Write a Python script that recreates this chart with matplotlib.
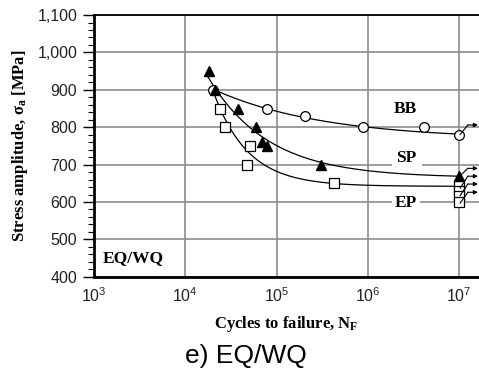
import numpy as np
import matplotlib
matplotlib.use("Agg")
import matplotlib.pyplot as plt
from matplotlib.ticker import FixedLocator, FixedFormatter, MultipleLocator, FuncFormatter

plt.rcParams['mathtext.fontset'] = 'custom'
plt.rcParams['mathtext.rm'] = 'Liberation Serif'
plt.rcParams['mathtext.bf'] = 'Liberation Serif:bold'
plt.rcParams['mathtext.it'] = 'Liberation Serif:italic'
plt.rcParams['mathtext.sf'] = 'Liberation Sans'

SERIF = 'Liberation Serif'
SANS = 'Liberation Sans'

# ------------------------------------------------------------------
# Data (cycles to failure, stress amplitude MPa)
bb_n = [2.0e4, 7.9e4, 2.05e5, 8.9e5, 4.1e6, 1.0e7]
bb_s = [900, 850, 830, 800, 800, 780]

sp_n = [1.8e4, 2.1e4, 3.8e4, 5.9e4, 6.9e4, 7.9e4, 3.1e5, 1.0e7]
sp_s = [950, 900, 850, 800, 760, 750, 700, 670]

ep_n = [2.4e4, 2.7e4, 5.1e4, 4.7e4, 4.3e5, 1.0e7, 1.0e7, 1.0e7, 1.0e7]
ep_s = [850, 800, 750, 700, 650, 645, 630, 615, 600]

# trend curves as drawn in the figure (log10 N, MPa)
bb_trend_x = [4.30, 4.60, 5.00, 5.48, 6.00, 6.50, 7.00]
bb_trend_y = [900, 877, 841, 819, 797, 789, 783]
sp_trend_x = [4.25, 4.30, 4.60, 5.00, 5.48, 6.00, 6.50, 7.00]
sp_trend_y = [940, 905, 832, 745, 708, 681, 675, 670]
ep_trend_x = [4.31, 4.60, 5.00, 5.48, 5.63, 6.00, 7.00]
ep_trend_y = [895, 755, 686, 654, 648, 645, 641]

# run-outs at 1e7 cycles: (stress at marker, stress where arrow runs)
runouts = [(780, 806), (670, 690), (637, 669), (617, 648), (597, 626)]


def fit_decay(x, y):
    # S = a + b*exp(-k*(x - x0)), grid search on k, least squares on a, b
    x = np.asarray(x, float)
    y = np.asarray(y, float)
    best = None
    for k in np.linspace(0.2, 12, 600):
        e = np.exp(-k * (x - x[0]))
        A = np.column_stack([np.ones_like(x), e])
        coef, res, _, _ = np.linalg.lstsq(A, y, rcond=None)
        err = np.sum((A @ coef - y) ** 2)
        if best is None or err < best[0]:
            best = (err, k, coef)
    _, k, coef = best
    xx = np.linspace(x[0], x[-1], 200)
    return 10 ** xx, coef[0] + coef[1] * np.exp(-k * (xx - x[0]))


fig = plt.figure(figsize=(4.79, 3.72), dpi=100)
ax = fig.add_axes([0.196, 0.256, 0.804, 0.7035])

ax.set_xscale('log')
ax.set_xlim(1e3, 10 ** 7.217)
ax.set_ylim(400, 1100)

# grid
ax.grid(True, which='major', color='#8c8c8c', linewidth=1.2)
ax.set_axisbelow(True)

# trend curves
for tx, ty in [(bb_trend_x, bb_trend_y), (sp_trend_x, sp_trend_y), (ep_trend_x, ep_trend_y)]:
    cx, cy = fit_decay(tx, ty)
    ax.plot(cx, cy, color='black', linewidth=0.9, zorder=3)

# markers
ax.plot(bb_n, bb_s, 'o', markersize=7, markerfacecolor='white',
        markeredgecolor='black', markeredgewidth=0.9, zorder=4)
ax.plot(ep_n, ep_s, 's', markersize=6.5, markerfacecolor='white',
        markeredgecolor='black', markeredgewidth=0.9, zorder=4)
ax.plot(sp_n, sp_s, '^', markersize=7.5, color='black', zorder=5)

# run-out arrows
for s0, s1 in runouts:
    xa = 1e7 * 10 ** 0.095
    ax.plot([1e7 * 10 ** 0.01, xa], [s0, s1], color='black', linewidth=0.8,
            zorder=6, clip_on=False)
    ax.annotate('', xy=(1e7 * 10 ** 0.205, s1), xytext=(xa, s1),
                arrowprops=dict(arrowstyle='-|>', color='black', lw=0.8,
                                mutation_scale=6, shrinkA=0, shrinkB=0),
                annotation_clip=False, zorder=6)

# labels on the curves
ax.text(2.6e6, 850, 'BB', fontfamily=SERIF, fontweight='bold', fontsize=12.5,
        ha='center', va='center')
ax.text(2.66e6, 717, 'SP', fontfamily=SERIF, fontweight='bold', fontsize=12.5,
        ha='center', va='center',
        bbox=dict(facecolor='white', edgecolor='none', pad=3.5))
ax.text(2.6e6, 598, 'EP', fontfamily=SERIF, fontweight='bold', fontsize=12.5,
        ha='center', va='center',
        bbox=dict(facecolor='white', edgecolor='none', pad=2))
ax.text(2.7e3, 451, 'EQ/WQ', fontfamily=SERIF, fontweight='bold', fontsize=12.5,
        ha='center', va='center')

# ticks
xt = [1e3, 1e4, 1e5, 1e6, 1e7]
ax.xaxis.set_major_locator(FixedLocator(xt))
ax.xaxis.set_major_formatter(FixedFormatter([r'$\mathsf{10^{%d}}$' % e for e in range(3, 8)]))
ax.xaxis.set_minor_locator(FixedLocator([]))
ax.tick_params(axis='x', which='both', length=0, pad=7, labelsize=11.5)

ax.yaxis.set_major_locator(MultipleLocator(100))
ax.yaxis.set_minor_locator(MultipleLocator(20))
ax.yaxis.set_major_formatter(FuncFormatter(lambda v, p: '{:,.0f}'.format(v)))
ax.tick_params(axis='y', which='major', direction='out', length=8, width=1.0, labelsize=11.5, pad=4)
ax.tick_params(axis='y', which='minor', direction='out', length=4, width=0.8)
for lab in ax.get_xticklabels() + ax.get_yticklabels():
    lab.set_fontfamily(SANS)
    lab.set_color('#222222')

# spines
ax.spines['left'].set_linewidth(2.0)
ax.spines['bottom'].set_linewidth(2.0)
ax.spines['top'].set_linewidth(1.3)
ax.spines['right'].set_visible(False)

ax.set_ylabel('Stress amplitude, σ$_\\mathbf{a}$ [MPa]', fontfamily=SERIF,
              fontweight='bold', fontsize=12, labelpad=5)
ax.set_xlabel('Cycles to failure, N$_\\mathbf{F}$', fontfamily=SERIF,
              fontweight='bold', fontsize=12, labelpad=6)

fig.text(0.514, 0.042, 'e) EQ/WQ', fontfamily=SANS, fontsize=19, ha='center', va='center')

fig.savefig('out.png', dpi=100)
